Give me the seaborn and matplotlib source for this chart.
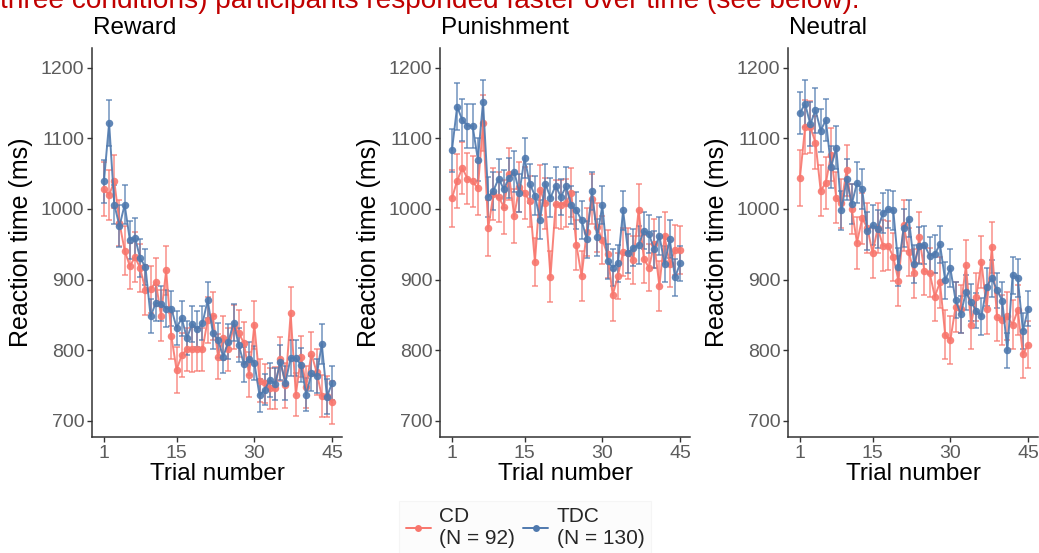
import numpy as np
import pandas as pd
import matplotlib
matplotlib.use("Agg")
import matplotlib.pyplot as plt
from matplotlib.lines import Line2D
import seaborn as sns

# ---------------- data ----------------
trials = list(range(1, 46))
conditions = ["Reward", "Punishment", "Neutral"]
groups = ["CD", "TDC"]
legend_labels = ["CD\n(N = 92)", "TDC\n(N = 130)"]
x_ticks = [1, 15, 30, 45]
y_ticks = [700, 800, 900, 1000, 1100, 1200]

reward_cd = [1028, 1020, 1039, 980, 941, 919, 932, 916, 885, 886, 897, 849, 913, 820, 772,
             793, 801, 801, 801, 801, 843, 848, 791, 817, 801, 833, 824, 810, 765, 836,
             757, 753, 746, 746, 788, 750, 852, 737, 791, 748, 795, 769, 735, 735, 726]
reward_tdc = [1039, 1122, 1006, 976, 1006, 956, 959, 930, 918, 848, 867, 866, 859, 859, 832,
              845, 817, 837, 830, 838, 871, 825, 814, 791, 812, 839, 807, 780, 788, 782,
              736, 744, 758, 752, 783, 754, 789, 789, 779, 737, 767, 763, 809, 734, 754]
punish_cd = [1015, 1040, 1058, 1043, 1039, 1029, 1122, 973, 1021, 1017, 1003, 1049, 990, 1031, 1023,
             1011, 925, 1027, 1008, 904, 1007, 1006, 1009, 1023, 949, 905, 968, 1014, 974, 956,
             936, 878, 905, 939, 937, 928, 999, 929, 917, 951, 891, 961, 922, 942, 942]
punish_tdc = [1083, 1145, 1126, 1118, 1117, 1070, 1152, 1017, 1026, 1043, 1028, 1044, 1053, 1023, 1072,
              1036, 1019, 985, 1036, 1016, 1033, 1017, 1032, 1005, 998, 984, 957, 1026, 960, 1005,
              926, 917, 923, 998, 937, 945, 949, 969, 964, 943, 962, 922, 957, 903, 923]
neutral_cd = [1044, 1116, 1116, 1094, 1026, 1037, 1077, 1016, 1008, 1055, 1000, 952, 987, 973, 938,
              973, 948, 948, 932, 898, 977, 939, 909, 960, 912, 910, 876, 896, 822, 814,
              861, 859, 920, 836, 876, 925, 858, 946, 847, 843, 848, 836, 857, 794, 808]
neutral_tdc = [1136, 1149, 1120, 1140, 1111, 1126, 1059, 1087, 998, 1042, 1007, 1037, 1028, 969, 977,
               972, 994, 1000, 998, 918, 973, 986, 922, 948, 949, 934, 936, 950, 899, 916,
               871, 851, 882, 868, 856, 848, 890, 902, 885, 870, 800, 906, 902, 827, 859]

# standard errors (half-length of the error bars)
reward_cd_se = [38, 35, 38, 32, 35, 33, 36, 34, 35, 33, 34, 36, 35, 33, 32,
                31, 30, 32, 31, 30, 33, 34, 32, 31, 30, 31, 33, 30, 32, 34,
                30, 28, 29, 30, 31, 32, 37, 30, 29, 30, 31, 32, 30, 29, 30]
reward_tdc_se = [30, 33, 28, 30, 28, 27, 28, 27, 26, 24, 26, 25, 26, 25, 24,
                 25, 24, 26, 25, 24, 26, 24, 25, 24, 25, 26, 24, 25, 23, 24,
                 23, 22, 24, 23, 25, 24, 25, 26, 24, 23, 25, 24, 28, 25, 24]
punish_cd_se = [40, 38, 37, 36, 36, 38, 40, 39, 37, 36, 38, 37, 38, 36, 37,
                36, 34, 35, 36, 36, 34, 35, 34, 35, 36, 35, 34, 36, 35, 34,
                34, 36, 33, 34, 36, 34, 37, 34, 33, 35, 36, 34, 33, 35, 34]
punish_tdc_se = [30, 33, 30, 31, 31, 30, 30, 28, 27, 28, 27, 28, 29, 27, 28,
                 27, 28, 27, 28, 28, 27, 26, 27, 27, 26, 27, 26, 27, 26, 27,
                 25, 26, 26, 28, 27, 26, 27, 26, 27, 26, 27, 26, 27, 26, 25]
neutral_cd_se = [40, 38, 37, 38, 36, 37, 38, 36, 35, 36, 36, 37, 36, 35, 36,
                 35, 36, 35, 34, 35, 36, 34, 35, 36, 34, 35, 34, 36, 35, 34,
                 35, 34, 36, 35, 34, 37, 35, 36, 34, 35, 34, 35, 36, 34, 33]
neutral_tdc_se = [30, 33, 31, 32, 31, 30, 30, 30, 28, 29, 28, 29, 28, 27, 28,
                  27, 28, 27, 28, 27, 27, 26, 27, 26, 27, 26, 27, 26, 26, 27,
                  25, 26, 25, 26, 25, 26, 27, 26, 25, 26, 25, 26, 27, 26, 25]

means = {
    "Reward": {"CD": reward_cd, "TDC": reward_tdc},
    "Punishment": {"CD": punish_cd, "TDC": punish_tdc},
    "Neutral": {"CD": neutral_cd, "TDC": neutral_tdc},
}
ses = {
    "Reward": {"CD": reward_cd_se, "TDC": reward_tdc_se},
    "Punishment": {"CD": punish_cd_se, "TDC": punish_tdc_se},
    "Neutral": {"CD": neutral_cd_se, "TDC": neutral_tdc_se},
}

rows = []
for c in conditions:
    for g in groups:
        for t, m, s in zip(trials, means[c][g], ses[c][g]):
            rows.append({"condition": c, "group": g, "trial": t, "rt": m, "se": s})
df = pd.DataFrame(rows)

# ---------------- style ----------------
sns.set_theme(style="white")
plt.rcParams["font.family"] = ["Liberation Sans", "DejaVu Sans"]

palette = {"CD": "#F8766D", "TDC": "#4F79AE"}

W, H = 1039, 553
fig = plt.figure(figsize=(W / 100, H / 100), dpi=100)

lefts_px = [92, 440, 788]
ax_w_px = 250
top_px, bottom_px = 48, 437

for cond, lpx in zip(conditions, lefts_px):
    ax = fig.add_axes([lpx / W, 1 - bottom_px / H, ax_w_px / W, (bottom_px - top_px) / H])
    sub = df[df["condition"] == cond]
    for g in groups:
        d = sub[sub["group"] == g]
        ax.errorbar(d["trial"], d["rt"], yerr=d["se"], fmt="none",
                    ecolor=palette[g], elinewidth=1.1, capsize=2.2, capthick=1.1,
                    alpha=0.8, zorder=2)
    sns.lineplot(data=sub, x="trial", y="rt", hue="group", hue_order=groups,
                 palette=palette, marker="o", markersize=5.4, markeredgewidth=0,
                 linewidth=1.4, errorbar=None, legend=False, ax=ax, alpha=0.9, zorder=3)
    ax.set_xlim(-1.3, 46.9)
    ax.set_ylim(677, 1228)
    ax.set_xticks(x_ticks)
    ax.set_yticks(y_ticks)
    for sp in ["top", "right"]:
        ax.spines[sp].set_visible(False)
    for sp in ["left", "bottom"]:
        ax.spines[sp].set_color("#333333")
        ax.spines[sp].set_linewidth(1.1)
    ax.tick_params(axis="both", direction="out", length=3.5, width=1.0, color="#333333",
                   labelsize=14, labelcolor="#5c5c5c", pad=2, bottom=True, left=True)
    ax.set_xlabel("Trial number", fontsize=17.5, color="black", labelpad=1)
    ax.set_ylabel("Reaction time (ms)", fontsize=18, color="black", labelpad=6)
    fig.text((lpx + 1) / W, 1 - 28 / H, cond, fontsize=17.5, ha="left", va="center", color="black")

# cut-off caption at the top
fig.text(0.0, 1 - 8 / H,
         "three conditions) participants responded faster over time (see below).",
         fontsize=20.2, color="#C00000", ha="left", va="baseline")

handles = [Line2D([0], [0], color=palette[g], marker="o", markersize=5, linewidth=1.4,
                  markeredgewidth=0) for g in groups]
leg = fig.legend(handles, legend_labels, loc="center", bbox_to_anchor=(525 / W, 1 - 528 / H),
                 ncol=2, frameon=True, fontsize=15, handlelength=1.2, handletextpad=0.4,
                 columnspacing=0.4, borderpad=0.3, labelspacing=0.2)
leg.get_frame().set_facecolor("#fcfcfc")
leg.get_frame().set_edgecolor("#f3f3f3")
leg.get_frame().set_linewidth(0.8)
leg.get_frame().set_boxstyle("square", pad=0.0)

fig.savefig("out.png", dpi=100)
